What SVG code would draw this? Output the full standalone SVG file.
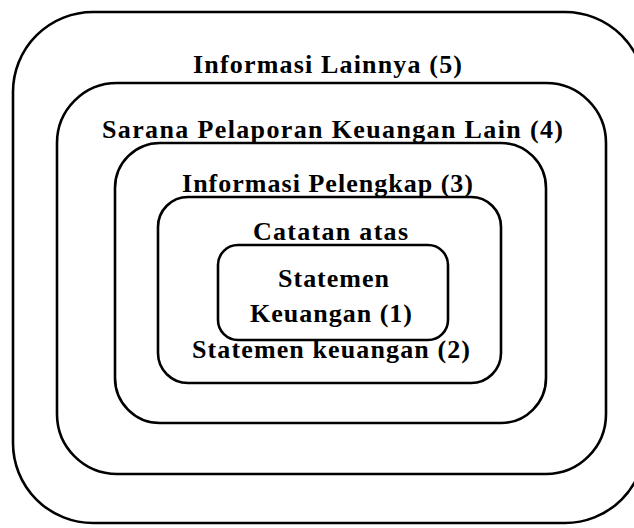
<svg xmlns="http://www.w3.org/2000/svg" width="634" height="528" viewBox="0 0 634 528">
<style>
.box{fill:none;stroke:#000;stroke-width:2.6}
.t{font-family:"Liberation Serif","Times New Roman",serif;font-weight:bold;font-size:26px;fill:#000}
</style>
<rect x="0" y="0" width="634" height="528" fill="#fff"/>
<g id="n5">
<rect class="box" x="13" y="12" width="632" height="511" rx="80" ry="80"/>
<text class="t" x="193" y="73" textLength="269" lengthAdjust="spacing">Informasi Lainnya (5)</text>
</g>
<g id="n4">
<rect class="box" x="57" y="83" width="549" height="391" rx="60" ry="60"/>
<text class="t" x="102" y="138" textLength="461" lengthAdjust="spacing">Sarana Pelaporan Keuangan Lain (4)</text>
</g>
<g id="n3">
<rect class="box" x="115" y="143" width="431" height="280" rx="45" ry="45"/>
<text class="t" x="182" y="192" textLength="291" lengthAdjust="spacing">Informasi Pelengkap (3)</text>
</g>
<g id="n2">
<rect class="box" x="158" y="197" width="343" height="186" rx="30" ry="30"/>
<text class="t" x="253" y="240" textLength="155" lengthAdjust="spacing">Catatan atas</text>
<text class="t" x="192" y="358" textLength="278" lengthAdjust="spacing">Statemen keuangan (2)</text>
</g>
<g id="n1">
<rect class="box" x="218" y="245" width="230" height="95" rx="20" ry="20"/>
<text class="t" x="278" y="287" textLength="111" lengthAdjust="spacing">Statemen</text>
<text class="t" x="250" y="322" textLength="162" lengthAdjust="spacing">Keuangan (1)</text>
</g>
</svg>
